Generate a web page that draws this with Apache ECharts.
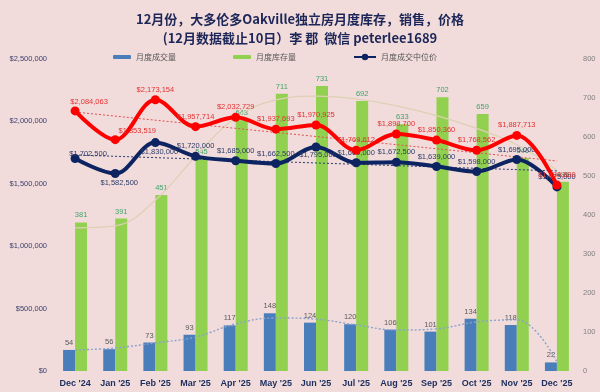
<!DOCTYPE html>
<html><head><meta charset="utf-8">
<script src="https://cdn.jsdelivr.net/npm/echarts@6/dist/echarts.min.js"></script>
<style>html,body{margin:0;padding:0;background:#f2dcdb}#c{width:600px;height:392px}</style>
</head><body><div id="c"></div>
<script>
const categories = ["Dec '24","Jan '25","Feb '25","Mar '25","Apr '25","May '25","Jun '25","Jul '25","Aug '25","Sep '25","Oct '25","Nov '25","Dec '25"];
const volume = [54,56,73,93,117,148,124,120,106,101,134,118,22];
const inventory = [381,391,451,545,643,711,731,692,633,702,659,546,485];
const medianPrice = [1702500,1582500,1830000,1720000,1685000,1662500,1795000,1669000,1672500,1639000,1598000,1695000,1475000];
const avgPrice = [2084063,1853519,2173154,1957714,2032729,1937693,1970925,1769612,1898700,1850360,1768562,1887713,1489600];
const volumeTrend = [54,59,72,87,121,136,133,118,105,108,126,131,23];
const inventoryTrend = [367,372,438,550,650,695,705,698,680,655,622,580,515];
const avgPriceTrend = [2075000,1683000];
const medianPriceTrend = [1731000,1603000];
const names = {vol:'月度成交量', inv:'月度库存量', med:'月度成交中位价', avg:'月度平均价'};

const FONT = "'Liberation Sans Narrow','Liberation Sans',sans-serif";
const money = v => '$' + Math.round(v).toLocaleString('en-US');
const ends = arr => categories.map((c,i)=> i===0 ? arr[0] : (i===categories.length-1 ? arr[1] : null));

// label offsets (styling, not data)
const avgOff = categories.map((c,i)=> i===0 ? [14,-9] : (i===1 ? [22,-9] : [0,-10]));
const medOff = categories.map((c,i)=> i===0 ? [13,-5] : ((i===1||i===2) ? [4,9] : (i===6 ? [2,8] : [0,-10])));

const chart = echarts.init(document.getElementById('c'), null, {renderer:'canvas'});
chart.setOption({
  backgroundColor:'#f2dcdb',
  animation:false,
  title:{
    text:'12月份，大多伦多Oakville独立房月度库存，销售，价格\n(12月数据截止10日）李 郡  微信 peterlee1689',
    left:'center', top:5,
    textStyle:{fontFamily:"'Noto Sans CJK SC',sans-serif", fontWeight:'bold', fontSize:13, color:'#1c2658', lineHeight:19}
  },
  legend:[
    {data:[names.vol], left:108, top:48, itemWidth:18, itemHeight:4, itemGap:4, textStyle:{fontSize:8, color:'#555', fontFamily:"'Noto Sans CJK SC',sans-serif"}},
    {data:[names.inv], left:228, top:48, itemWidth:18, itemHeight:4, textStyle:{fontSize:8, color:'#555', fontFamily:"'Noto Sans CJK SC',sans-serif"}},
    {data:[names.med], left:348, top:48, itemWidth:22, itemHeight:8, textStyle:{fontSize:8, color:'#555', fontFamily:"'Noto Sans CJK SC',sans-serif"}}
  ],
  grid:{left:55, right:23, top:59, bottom:21, containLabel:false},
  xAxis:{type:'category', data:categories, boundaryGap:true,
    axisLine:{show:false}, axisTick:{show:false},
    axisLabel:{fontFamily:"'Liberation Sans',sans-serif", fontWeight:'bold', fontSize:9, color:'#1f3060', margin:8, interval:0}},
  yAxis:[
    {type:'value', min:0, max:2500000, interval:500000, splitLine:{show:false}, axisLine:{show:false}, axisTick:{show:false},
     axisLabel:{formatter:v=>money(v), fontFamily:FONT, fontSize:7.5, color:'#3c4170', margin:8}},
    {type:'value', min:0, max:800, interval:100, splitLine:{show:false}, axisLine:{show:false}, axisTick:{show:false},
     axisLabel:{fontFamily:FONT, fontSize:7.5, color:'#808080', margin:6}}
  ],
  series:[
    {name:names.vol, type:'bar', yAxisIndex:1, data:volume, barWidth:12, barGap:'0%', z:2,
     itemStyle:{color:'#4a7ebb'},
     label:{show:true, position:'top', distance:3, fontFamily:FONT, fontSize:7.5, color:'#595959'}},
    {name:names.inv, type:'bar', yAxisIndex:1, data:inventory, barWidth:12, barGap:'0%', z:2,
     itemStyle:{color:'#92d050'},
     label:{show:true, position:'top', distance:3, fontFamily:FONT, fontSize:7.5, color:'#3ea56a'}},
    {name:'vt', type:'line', yAxisIndex:1, data:volumeTrend, smooth:0.4, symbol:'none', z:3,
     lineStyle:{color:'#8aa2cc', width:1.4, type:[2,2]}},
    {name:'it', type:'line', yAxisIndex:1, data:inventoryTrend, smooth:0.4, symbol:'none', z:3,
     lineStyle:{color:'#ddd0b4', width:1.2}},
    {name:'at', type:'line', yAxisIndex:0, data:ends(avgPriceTrend), connectNulls:true, symbol:'none', z:4,
     lineStyle:{color:'#e05050', width:1, type:[2,2]}},
    {name:'mt', type:'line', yAxisIndex:0, data:ends(medianPriceTrend), connectNulls:true, symbol:'none', z:4,
     lineStyle:{color:'#2a3a70', width:1, type:[2,2]}},
    {name:names.med, type:'line', yAxisIndex:0, smooth:0.35, z:5,
     data:medianPrice.map((v,i)=>({value:v, label:{offset:medOff[i]}})),
     symbol:'circle', symbolSize:9, itemStyle:{color:'#0c2461'}, lineStyle:{color:'#0c2461', width:4},
     label:{show:true, position:'inside', formatter:p=>money(p.value), fontFamily:FONT, fontSize:7.5, color:'#2c3b68'}},
    {name:names.avg, type:'line', yAxisIndex:0, smooth:0.35, z:6,
     data:avgPrice.map((v,i)=>({value:v, label:{offset:avgOff[i]}})),
     symbol:'circle', symbolSize:9, itemStyle:{color:'#ff0000'}, lineStyle:{color:'#ff0000', width:4},
     label:{show:true, position:'inside', formatter:p=>money(p.value), fontFamily:FONT, fontSize:7.5, color:'#e23030'}}
  ]
});
</script></body></html>
